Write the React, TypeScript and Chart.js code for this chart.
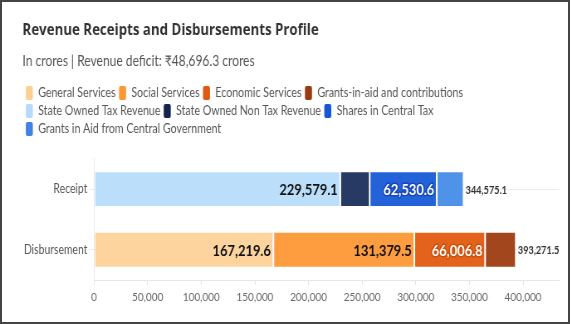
import React, { useEffect, useRef } from 'react';
import { Chart, registerables } from 'chart.js';

Chart.register(...registerables);

// ---------- data ----------
const categories = ['Receipt', 'Disbursement'];
const seriesNames = [
  'General Services',
  'Social Services',
  'Economic Services',
  'Grants-in-aid and contributions',
  'State Owned Tax Revenue',
  'State Owned Non Tax Revenue',
  'Shares in Central Tax',
  'Grants in Aid from Central Government',
];
const generalServices = [null, 167219.6];
const socialServices = [null, 131379.5];
const economicServices = [null, 66006.8];
const grantsInAidContributions = [null, 28665.6];
const stateTaxRevenue = [229579.1, null];
const stateNonTaxRevenue = [27400.0, null];
const sharesInCentralTax = [62530.6, null];
const grantsFromCentre = [25065.4, null];
const totals = [344575.1, 393271.5];
const xTickValues = [0, 50000, 100000, 150000, 200000, 250000, 300000, 350000, 400000];
const xMax = 433500;
const titleText = 'Revenue Receipts and Disbursements Profile';
const subtitleText = 'In crores | Revenue deficit: ₹48,696.3 crores';

// ---------- styles ----------
const S = 0.83; // horizontal compression factor (narrow type)
const FONT = "Lato, 'Noto Sans', 'DejaVu Sans', sans-serif";
const TITLE_FONT = "'Open Sans', 'Noto Sans', sans-serif";
const barColors = ['#FDD49E', '#FD9D40', '#E3621C', '#A2461E', '#BBDEFA', '#273A63', '#2462DA', '#4F93E8'];
const legendColors = ['#FECF8F', '#FD9634', '#E0590F', '#9A3A12', '#B5DBFB', '#13254F', '#1656D8', '#3F82E6'];
const labelStyles = [
  { color: '#111' },
  { color: '#111' },
  { color: '#fff', stroke: '#C9500F' },
  { color: '#fff', stroke: '#7a2e10' },
  { color: '#111' },
  { color: '#fff', stroke: '#111c3a' },
  { color: '#fff', stroke: '#1747B8' },
  { color: '#111' },
];

const seriesData = [
  generalServices,
  socialServices,
  economicServices,
  grantsInAidContributions,
  stateTaxRevenue,
  stateNonTaxRevenue,
  sharesInCentralTax,
  grantsFromCentre,
];

const fmt1 = (v: number) =>
  v.toLocaleString('en-US', { minimumFractionDigits: 1, maximumFractionDigits: 1 });

const barLabelPlugin = {
  id: 'barLabels',
  afterDatasetsDraw(chart: any) {
    const ctx = chart.ctx;
    ctx.save();
    ctx.textBaseline = 'middle';
    chart.data.datasets.forEach((ds: any, di: number) => {
      const meta = chart.getDatasetMeta(di);
      meta.data.forEach((el: any, i: number) => {
        const v = ds.data[i];
        if (v == null) return;
        const { x, y, base } = el.getProps(['x', 'y', 'base'], true);
        const text = fmt1(v);
        ctx.font = `bold 15.5px ${FONT}`;
        const w = ctx.measureText(text).width;
        if (w + 8 / S > Math.abs(x - base)) return;
        ctx.textAlign = 'right';
        const st = labelStyles[di];
        const tx = x - 2.5 / S;
        if (st.stroke) {
          ctx.lineWidth = 3;
          ctx.lineJoin = 'round';
          ctx.strokeStyle = st.stroke;
          ctx.strokeText(text, tx, y + 1);
        }
        ctx.fillStyle = st.color;
        ctx.fillText(text, tx, y + 1);
      });
    });
    const xs = chart.scales.x;
    const ys = chart.scales.y;
    ctx.font = `bold 11px ${FONT}`;
    ctx.fillStyle = '#333';
    ctx.textAlign = 'left';
    totals.forEach((t, i) => {
      ctx.fillText(fmt1(t), xs.getPixelForValue(t) + 2 / S, ys.getPixelForValue(i) + 1);
    });
    ctx.restore();
  },
};

const legendSpacerPlugin = {
  id: 'legendSpacer',
  afterInit(chart: any) {
    const lg = chart.legend;
    if (!lg || lg.__patched) return;
    const orig = lg.fit;
    lg.fit = function () {
      orig.call(this);
      this.height += 13;
    };
    lg.__patched = true;
  },
};

export default function App() {
  const canvasRef = useRef<HTMLCanvasElement | null>(null);

  useEffect(() => {
    document.body.style.margin = '0';
    const canvas = canvasRef.current;
    if (!canvas) return;
    Chart.defaults.font.family = FONT;

    const chart = new Chart(canvas, {
      type: 'bar',
      data: {
        labels: categories,
        datasets: seriesNames.map((name, i) => ({
          label: name,
          data: seriesData[i],
          backgroundColor: barColors[i],
          borderColor: 'rgba(255,255,255,0.55)',
          borderWidth: 1,
          borderSkipped: false,
          categoryPercentage: 0.8,
          barPercentage: 0.74,
        })),
      },
      options: {
        indexAxis: 'y',
        animation: false,
        responsive: false,
        maintainAspectRatio: false,
        devicePixelRatio: 1,
        layout: { padding: { left: 22.5 / S, right: 13 / S, top: 12, bottom: 15.6 } },
        plugins: {
          title: {
            display: true,
            text: titleText,
            align: 'start',
            color: '#333',
            font: { size: 16, weight: 'bold', family: TITLE_FONT },
            padding: { top: 9, bottom: 10 },
          },
          subtitle: {
            display: true,
            text: subtitleText,
            align: 'start',
            color: '#555',
            font: { size: 14.5, family: FONT },
            padding: { top: 2, bottom: 12.3 },
          },
          legend: {
            display: true,
            align: 'start',
            labels: {
              boxWidth: 7 / S,
              boxHeight: 14,
              padding: 4,
              color: '#555',
              font: { size: 12.8, family: FONT },
              useBorderRadius: true,
              borderRadius: 2,
              generateLabels: (chart: any) => {
                const items = Chart.defaults.plugins.legend.labels.generateLabels(chart);
                return items.map((it: any, i: number) => ({
                  ...it,
                  fillStyle: legendColors[i],
                  strokeStyle: legendColors[i],
                  lineWidth: 0,
                }));
              },
            },
          },
          tooltip: { enabled: false },
        },
        scales: {
          x: {
            stacked: true,
            min: 0,
            max: xMax,
            afterBuildTicks: (s: any) => {
              s.ticks = xTickValues.map((v) => ({ value: v }));
            },
            ticks: {
              color: '#666',
              font: { size: 12, family: FONT },
              padding: 4.5,
              autoSkip: false,
              maxRotation: 0,
              callback: (v: any) => Number(v).toLocaleString('en-US'),
            },
            grid: { drawOnChartArea: false, tickLength: 5, color: '#e3e3e3' },
            border: { color: '#e6e6e6' },
          },
          y: {
            stacked: true,
            afterFit: (s: any) => {
              s.width = 71.5 / S;
            },
            ticks: { color: '#555', font: { size: 12.5, family: FONT }, padding: 2 },
            grid: { offset: false, tickLength: 6, color: '#ececec' },
            border: { color: '#e6e6e6' },
          },
        },
      },
      plugins: [barLabelPlugin, legendSpacerPlugin],
    });
    return () => chart.destroy();
  }, []);

  return (
    <div style={{ position: 'relative', width: 572, height: 324, background: '#fff' }}>
      <canvas
        ref={canvasRef}
        width={Math.round(572 / S)}
        height={324}
        style={{ width: '572px', height: '324px', display: 'block' }}
      />
      <div
        style={{
          position: 'absolute',
          left: 0,
          top: 0,
          width: 570,
          height: 324,
          boxSizing: 'border-box',
          border: '2px solid #444',
          pointerEvents: 'none',
        }}
      />
    </div>
  );
}
